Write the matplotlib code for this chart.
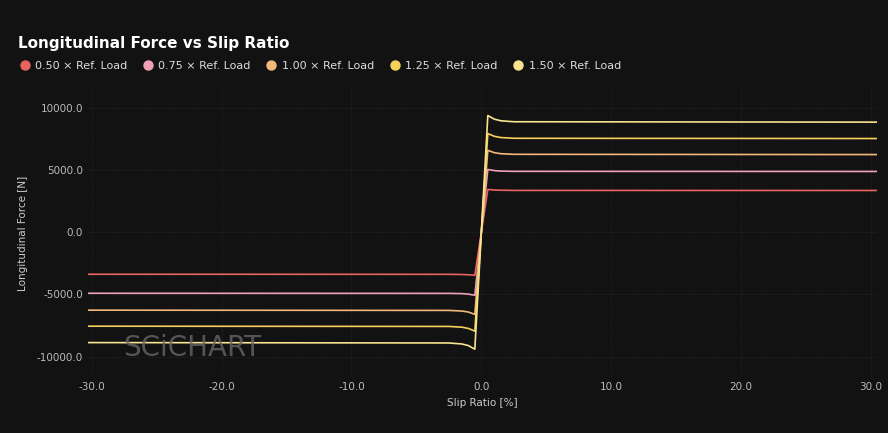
import matplotlib
matplotlib.use("Agg")
import matplotlib.pyplot as plt
from matplotlib.ticker import FuncFormatter, MultipleLocator

slip = [-30.5, -2.5, -1.5, -1.0, -0.5, 0.0, 0.5, 1.0, 1.5, 2.5, 30.5]
labels = ["0.50 × Ref. Load", "0.75 × Ref. Load", "1.00 × Ref. Load", "1.25 × Ref. Load", "1.50 × Ref. Load"]
f050 = [-3370, -3375, -3390, -3410, -3450, 0, 3450, 3410, 3390, 3375, 3370]
f075 = [-4900, -4910, -4930, -4970, -5060, 0, 5060, 4970, 4930, 4910, 4900]
f100 = [-6260, -6280, -6330, -6410, -6600, 0, 6600, 6410, 6330, 6280, 6260]
f125 = [-7550, -7570, -7630, -7730, -7950, 0, 7950, 7730, 7630, 7570, 7550]
f150 = [-8870, -8900, -8980, -9110, -9400, 0, 9400, 9110, 8980, 8900, 8870]
series = [f050, f075, f100, f125, f150]
colors = ["#e8645f", "#eea0b4", "#f4b87a", "#f5d15a", "#f8e38f"]

bg = "#121212"
fig = plt.figure(figsize=(8.88, 4.33), dpi=100, facecolor=bg)
ax = fig.add_axes([0.099, 0.129, 0.889, 0.663], facecolor=bg)
for y, c, l in zip(series, colors, labels):
    ax.plot(slip, y, color=c, lw=1.2, label=l)
ax.set_xlim(-30.3, 30.5)
ax.set_ylim(-11650, 11450)
ax.xaxis.set_major_locator(MultipleLocator(10))
ax.yaxis.set_major_locator(MultipleLocator(5000))
ax.xaxis.set_minor_locator(MultipleLocator(2))
ax.yaxis.set_minor_locator(MultipleLocator(1000))
fmt = FuncFormatter(lambda v, p: f"{v:.1f}")
ax.xaxis.set_major_formatter(fmt)
ax.yaxis.set_major_formatter(fmt)
ax.grid(which="major", color="#1a1a1a", lw=0.8)
ax.grid(which="minor", color="#151515", lw=0.6)
for s in ax.spines.values():
    s.set_visible(False)
ax.tick_params(colors="#bbbbbb", labelsize=7.5, length=0, which="both")
ax.set_xlabel("Slip Ratio [%]", color="#cccccc", fontsize=7.5, labelpad=4)
ax.set_ylabel("Longitudinal Force [N]", color="#cccccc", fontsize=7.5, labelpad=6)
ax.text(0.045, 0.075, "SCiCHART", transform=ax.transAxes, color="#666666", fontsize=20, alpha=0.8)

fig.text(0.02, 0.89, "Longitudinal Force vs Slip Ratio", color="white", fontsize=11, fontweight="bold")
leg = fig.legend(handles=ax.get_lines(), loc="upper left", bbox_to_anchor=(0.012, 0.882), ncol=5,
                 frameon=False, fontsize=8, labelcolor="#dddddd", handlelength=0.7, handletextpad=0.6,
                 columnspacing=1.5)
for h, c in zip(leg.legend_handles, colors):
    h.set_linestyle("none"); h.set_marker("o"); h.set_markersize(6.5); h.set_color(c)
fig.savefig("out.png", dpi=100, facecolor=bg)
